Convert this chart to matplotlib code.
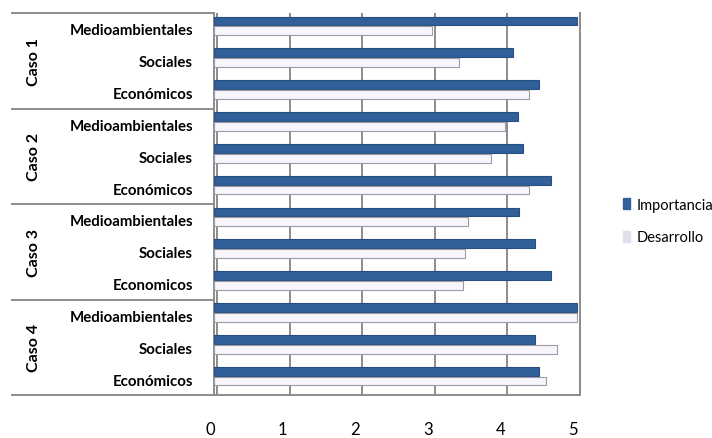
import numpy as np
import matplotlib.pyplot as plt
import matplotlib.transforms as mtransforms
from matplotlib.patches import Patch

casos = ["Caso 1", "Caso 2", "Caso 3", "Caso 4"]
categorias = [
    ["Medioambientales", "Sociales", "Económicos"],
    ["Medioambientales", "Sociales", "Económicos"],
    ["Medioambientales", "Sociales", "Economicos"],
    ["Medioambientales", "Sociales", "Económicos"],
]
importancia = [5.0, 4.12, 4.48,
               4.19, 4.25, 4.64,
               4.20, 4.42, 4.64,
               5.0, 4.42, 4.48]
desarrollo = [3.0, 3.37, 4.34,
              4.01, 3.82, 4.34,
              3.50, 3.46, 3.43,
              5.0, 4.73, 4.57]

plt.rcParams['font.family'] = ['Lato', 'DejaVu Sans']

fig = plt.figure(figsize=(7.12, 4.39), dpi=100)
ax = fig.add_axes([214 / 712, 1 - 396 / 439, 366 / 712, 382 / 439])

n = len(importancia)
y = np.arange(n) + 0.5
h = 0.28
ax.barh(y - 0.25, importancia, height=h, color="#31609A", edgecolor="#284F80",
        linewidth=0.8, zorder=3, label="Importancia")
ax.barh(y + 0.06, desarrollo, height=h, color="#F8F4FB", edgecolor="#9C9CA6",
        linewidth=0.8, zorder=3, label="Desarrollo")

ax.set_xlim(0, 5.04)
ax.set_ylim(n, 0)
for v in range(6):
    ax.axvline(v + 0.04, color="#8C8C8C", lw=1.4, zorder=1)

for s in ["top", "bottom"]:
    ax.spines[s].set_visible(False)
for s in ["left", "right"]:
    ax.spines[s].set_color("#8C8C8C")
    ax.spines[s].set_linewidth(1.4)
ax.axhline(n, color="#8C8C8C", lw=1.4, clip_on=False)

ax.set_xticks(range(6))
ax.set_xticklabels([str(v) for v in range(6)], fontsize=12)
ax.tick_params(axis="x", length=0, pad=19)
for lbl in ax.get_xticklabels():
    lbl.set_transform(lbl.get_transform() + mtransforms.ScaledTranslation(-4 / 100, 0, fig.dpi_scale_trans))

ax.set_yticks(y)
ax.set_yticklabels([c for grupo in categorias for c in grupo], fontsize=10.8,
                   fontweight="bold")
ax.tick_params(axis="y", length=0, pad=15)

# separadores de grupo y etiquetas de caso
trans = mtransforms.blended_transform_factory(fig.transFigure, ax.transData)
for k in range(len(casos) + 1):
    ax.plot([12 / 712, 214 / 712], [3 * k, 3 * k], transform=trans,
            color="#8C8C8C", lw=1.4, clip_on=False)
for k, caso in enumerate(casos):
    ax.text(34 / 712, 3 * k + 1.5, caso, transform=trans, rotation=90,
            ha="center", va="center", fontsize=11.5, fontweight="bold")

handles = [Patch(facecolor="#31609A", edgecolor="#31609A"),
           Patch(facecolor="#E2DEEE", edgecolor="#E2DEEE")]
fig.legend(handles, ["Importancia", "Desarrollo"], loc="center left",
           bbox_to_anchor=(610 / 712, 1 - 222 / 439), frameon=False,
           fontsize=10.5, handlelength=0.5, handleheight=0.8,
           handletextpad=0.4, labelspacing=1.3)

fig.savefig("out.png", dpi=100)
